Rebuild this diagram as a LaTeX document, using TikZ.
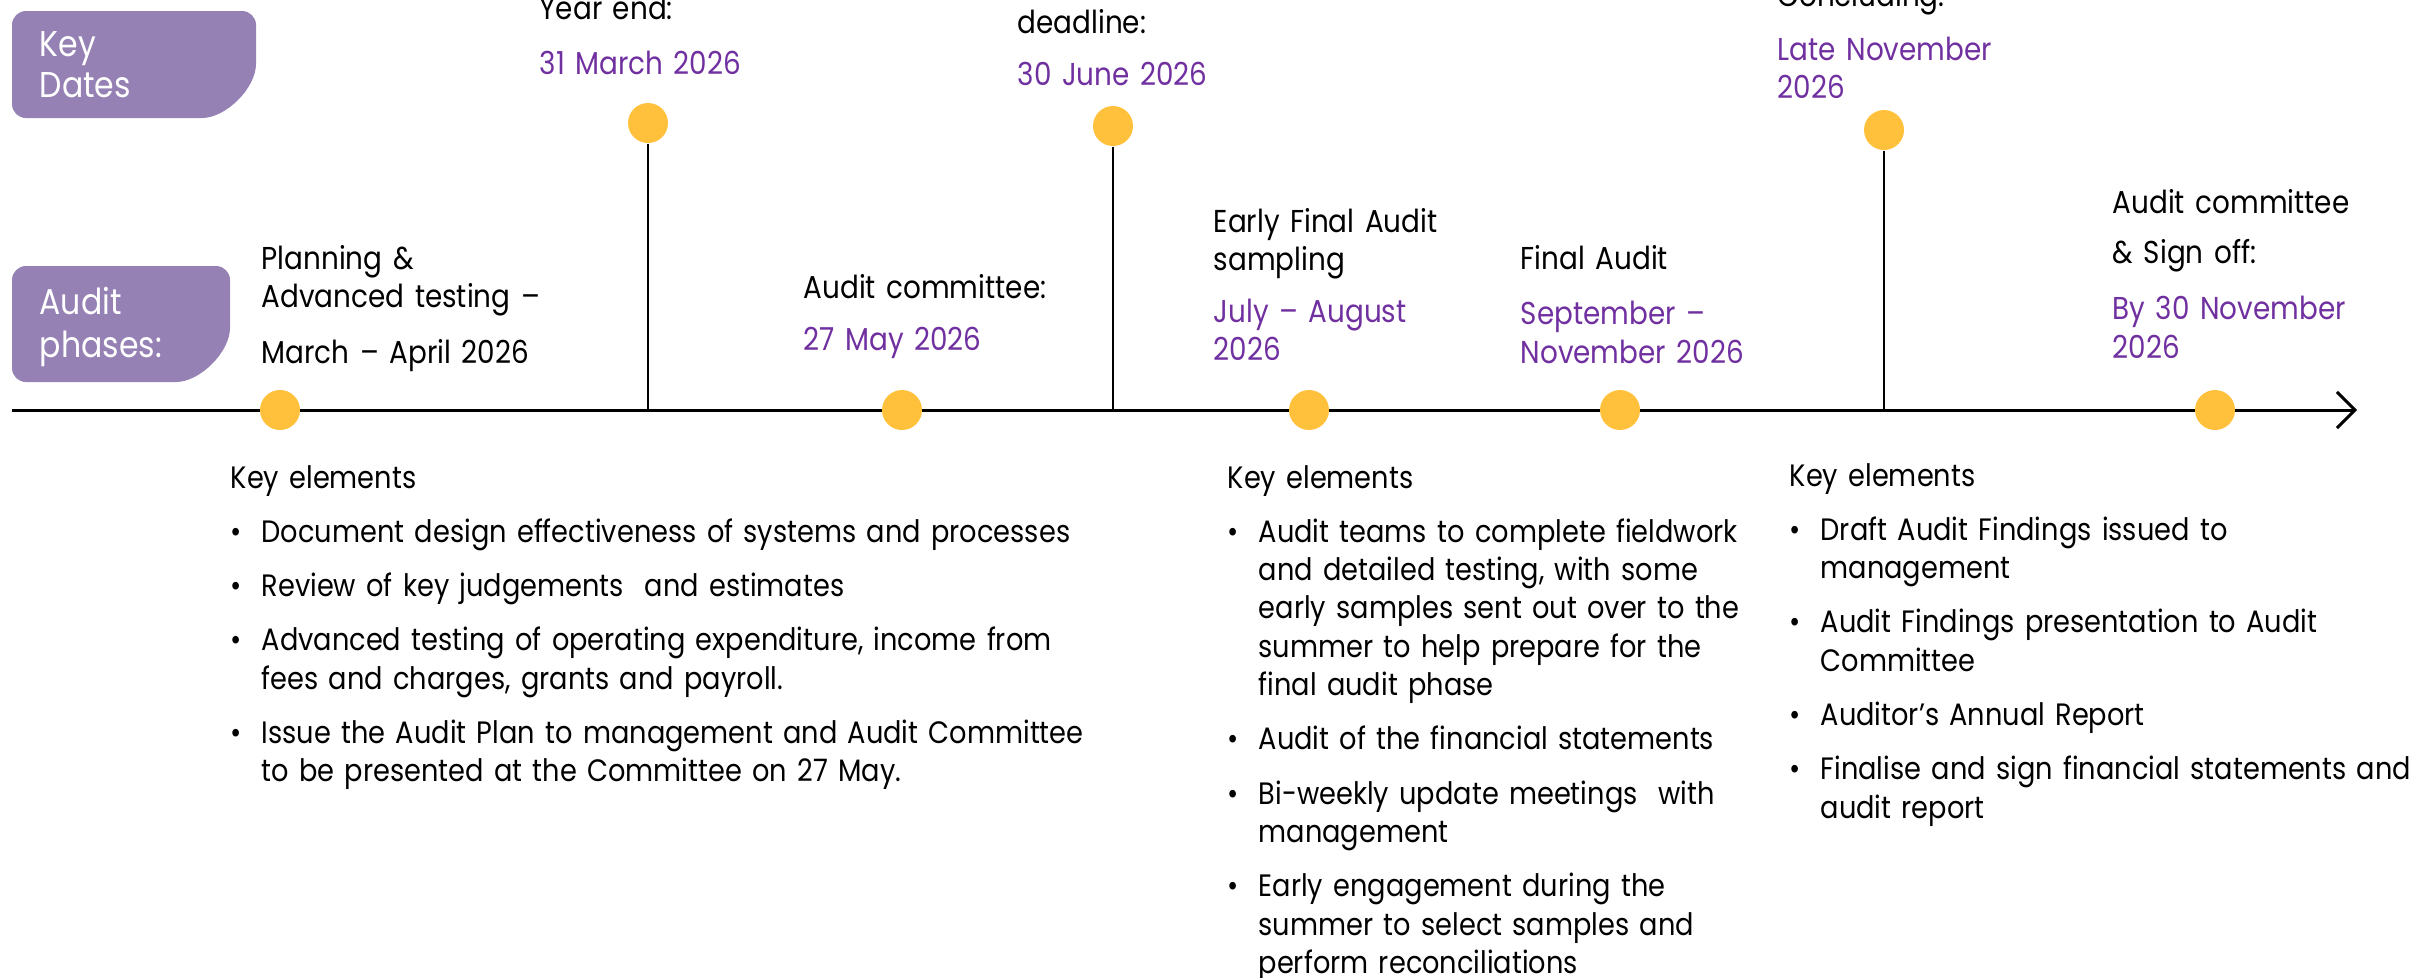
\documentclass[tikz,border=0pt]{standalone}
\usepackage{fontspec}
\setmainfont[FakeStretch=0.88]{Poppins}
\usetikzlibrary{arrows.meta}
\usetikzlibrary{positioning}

\definecolor{tabpurple}{HTML}{9581B4}
\definecolor{datepurple}{HTML}{7030A0}
\definecolor{dotyellow}{HTML}{FFC13B}

\tikzset{
    tabbox/.style = {fill=tabpurple, rounded corners=1.4mm},
    tabtext/.style = {anchor=base west, inner sep=0pt, text width=3cm, align=left, text=white, font=\fontsize{10.2pt}{11.9pt}\selectfont},
    phasetext/.style = {anchor=base west, inner sep=0pt, text width=5cm, align=left, text=black, font=\fontsize{9pt}{10.9pt}\selectfont},
    keylist/.style = {anchor=base west, inner sep=0pt, text width=#1, align=left, text=black, font=\fontsize{8.8pt}{10.9pt}\selectfont},
    dot/.style = {circle, fill=dotyellow, minimum size=4mm, inner sep=0pt},
    axisline/.style = {line width=0.85pt, black, -{Straight Barb[length=1.8mm,width=3.6mm]}},
    stem/.style = {line width=0.8pt, black}
}

% bullet with hanging indent, lines inside an item broken with \newline
\newcommand\itm{\par\vspace{1.6mm}\hangindent=3.1mm\hangafter=1\noindent\makebox[3.1mm][l]{\textbullet}}

\begin{document}
\begin{tikzpicture}[x=0.1mm, y=-0.1mm]
\useasboundingbox (0,0) rectangle (2435,977);
\clip (0,0) rectangle (2435,977);

% row tabs
\fill[tabbox] (12,11) -- (256,11) -- (256,50) .. controls (256,88) and (226,118) .. (188,118) -- (12,118) -- cycle;
\fill[tabbox] (12,266) -- (230,266) -- (230,314) .. controls (230,352) and (200,382) .. (162,382) -- (12,382) -- cycle;
\node[tabtext] at (39,56) (keydates) {Key\\Dates};
\node[tabtext] at (39,314) (phases) {Audit\\[0.5pt]phases:};

% time axis
\coordinate (start) at (12,410);
\coordinate (end) at (2357,410);
\draw[axisline] (start) -- (end);

% key dates with stems
\coordinate (s1) at (648,410);
\coordinate (s2) at (1113,410);
\coordinate (s3) at (1884,410);
\node[dot] at (648,123) (k1) {};
\node[dot] at (1113,126) (k2) {};
\node[dot] at (1884,130) (k3) {};
\draw[stem] (k1) -- (s1);
\draw[stem] (k2) -- (s2);
\draw[stem] (k3) -- (s3);

% phase markers
\node[dot] at (280,410) (p1) {};
\node[dot] at (902,410) (p2) {};
\node[dot] at (1309,410) (p3) {};
\node[dot] at (1620,410) (p4) {};
\node[dot] at (2215,410) (p5) {};

% labels above the axis
\node[phasetext] at (539,19) (yearend) {Year end:\\[5pt]\color{datepurple}31 March 2026};
\node[phasetext] at (1017,33) (deadline) {deadline:\\[4pt]\color{datepurple}30 June 2026};
\node[phasetext] at (1777,6) (concl) {Concluding:\\[4.5pt]\color{datepurple}Late November\\2026};
\node[phasetext] at (261,269) (planning) {Planning \&\\Advanced testing –\\[5pt]March – April 2026};
\node[phasetext] at (803,298) (committee) {Audit committee:\\[4pt]\color{datepurple}27 May 2026};
\node[phasetext] at (1213,232) (early) {Early Final Audit\\sampling\\[4pt]\color{datepurple}July – August\\2026};
\node[phasetext] at (1520,269) (final) {Final Audit\\[5pt]\color{datepurple}September –\\November 2026};
\node[phasetext] at (2112,213) (signoff) {Audit committee\\[3.6pt]\& Sign off:\\[5pt]\color{datepurple}By 30 November\\2026};

% key elements below the axis
\node[keylist=9cm] at (230,488) (list1) {Key elements
  \itm Document design effectiveness of systems and processes
  \itm Review of key judgements \ and estimates
  \itm Advanced testing of operating expenditure, income from\newline fees and charges, grants and payroll.
  \itm Issue the Audit Plan to management and Audit Committee\newline to be presented at the Committee on 27 May.\par};
\node[keylist=5.5cm] at (1227,488) (list2) {Key elements
  \itm Audit teams to complete fieldwork\newline and detailed testing, with some\newline early samples sent out over to the\newline summer to help prepare for the\newline final audit phase
  \itm Audit of the financial statements
  \itm Bi-weekly update meetings \ with\newline management
  \itm Early engagement during the\newline summer to select samples and\newline perform reconciliations\par};
\node[keylist=7cm] at (1789,486) (list3) {Key elements
  \itm Draft Audit Findings issued to\newline management
  \itm Audit Findings presentation to Audit\newline Committee
  \itm Auditor’s Annual Report
  \itm Finalise and sign financial statements and\newline audit report\par};
\end{tikzpicture}
\end{document}
